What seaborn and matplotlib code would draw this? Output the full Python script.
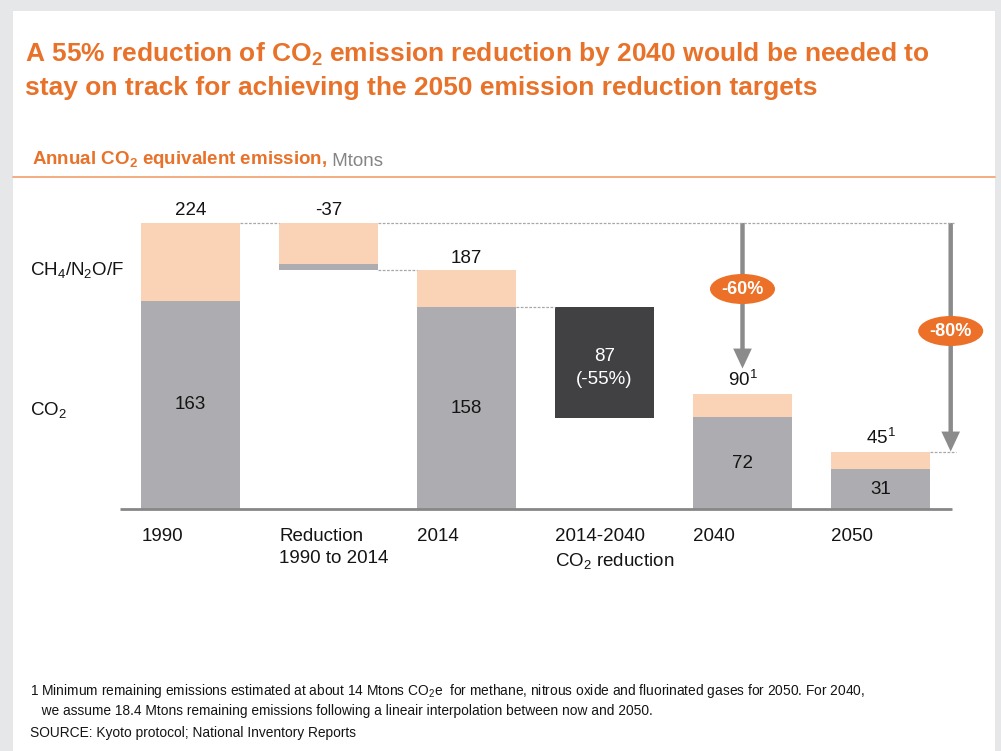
import numpy as np
import pandas as pd
import seaborn as sns
import matplotlib
matplotlib.use("Agg")
import matplotlib.pyplot as plt
from matplotlib.transforms import Affine2D
from matplotlib.patches import Rectangle, Ellipse, FancyArrowPatch

# ---- data: annual CO2-equivalent emission, Mtons ----
categories = ["1990", "Reduction\n1990 to 2014", "2014",
              "2014-2040\nCO$_2$ reduction", "2040", "2050"]
years = ["1990", "2014", "2040", "2050"]
total_emission = [224, 187, 90, 45]
co2_emission = [163, 158, 72, 31]
reduction_1990_2014 = -37
co2_reduction_2014_2040 = 87
co2_reduction_pct = -55
cut_2040_pct = -60
cut_2050_pct = -80
footnoted_years = ["2040", "2050"]

row_labels = ["CH$_4$/N$_2$O/F", "CO$_2$"]
title_lines = ["A 55% reduction of CO$_\\mathbf{2}$ emission reduction by 2040 would be needed to",
               "stay on track for achieving the 2050 emission reduction targets"]
subtitle_bold = "Annual CO$_\\mathbf{2}$ equivalent emission,"
subtitle_unit = " Mtons"
footnote_lines = [
    "1 Minimum remaining emissions estimated at about 14 Mtons CO$_2$e  for methane, nitrous oxide and fluorinated gases for 2050. For 2040,",
    "   we assume 18.4 Mtons remaining emissions following a lineair interpolation between now and 2050.",
]
source_line = "SOURCE: Kyoto protocol; National Inventory Reports"

# ---- colours ----
ORANGE = "#E8722A"
BADGE = "#EC7027"
PEACH = "#FAD3B6"
GREY = "#ADADB1"
DARK = "#414143"
ARROW = "#8B8B8B"
DOTS = "#A8A8A8"
FRAME = "#E6E7E9"
INK = "#141414"

# ---- stacked / floating layers derived from the series ----
other_emission = [t - c for t, c in zip(total_emission, co2_emission)]
tot = dict(zip(years, total_emission))
co2 = dict(zip(years, co2_emission))
oth = dict(zip(years, other_emission))
red_co2 = co2["1990"] - co2["2014"]
red_oth = oth["1990"] - oth["2014"]
dark_bottom = co2["2014"] - co2_reduction_2014_2040

grey_h = [co2["1990"], red_co2, co2["2014"], 0, co2["2040"], co2["2050"]]
grey_b = [0, tot["2014"], 0, 0, 0, 0]
peach_h = [oth["1990"], red_oth, oth["2014"], 0, oth["2040"], oth["2050"]]
peach_b = [co2["1990"], tot["2014"] + red_co2, co2["2014"], 0, co2["2040"], co2["2050"]]
dark_h = [0, 0, 0, co2_reduction_2014_2040, 0, 0]
dark_b = [0, 0, 0, dark_bottom, 0, 0]

# ---- figure ----
W, H = 1001, 751
sns.set_theme(style="white")
plt.rcParams["font.family"] = ["Liberation Sans", "DejaVu Sans"]
plt.rcParams["mathtext.fontset"] = "custom"
plt.rcParams["mathtext.rm"] = "Liberation Sans"
plt.rcParams["mathtext.it"] = "Liberation Sans:italic"
plt.rcParams["mathtext.bf"] = "Liberation Sans:bold"

fig = plt.figure(figsize=(W / 100, H / 100), dpi=100)
fig.patch.set_facecolor(FRAME)
PX = Affine2D().scale(1 / W, -1 / H).translate(0, 1) + fig.transFigure

fig.add_artist(Rectangle((13, 11), 982, 745, transform=PX, facecolor="white",
                         edgecolor="none", zorder=-5))

ax = fig.add_axes([0, 0, 1, 1])
ax.patch.set_alpha(0)

BW = 0.717
df = pd.DataFrame({"cat": categories, "grey": grey_h, "peach": peach_h, "dark": dark_h})
for col, bottoms, colour in [("grey", grey_b, GREY), ("peach", peach_b, PEACH),
                             ("dark", dark_b, DARK)]:
    sns.barplot(data=df, x="cat", y=col, order=categories, bottom=bottoms,
                color=colour, saturation=1, width=BW, errorbar=None,
                linewidth=0, ax=ax)

# data <-> pixel mapping: bar pitch 138 px, 1.277 px per Mton, baseline at y=509
X0, PITCH, Y0, SCALE = 190.5, 138.0, 509.0, 1.277
ax.set_xlim(-X0 / PITCH, (W - X0) / PITCH)
ax.set_ylim(-(H - Y0) / SCALE, Y0 / SCALE)
ax.axis("off")

def xpx(px):
    return (px - X0) / PITCH

# baseline
ax.plot([xpx(120), xpx(952)], [0, 0], color="#878787", lw=2.0, solid_capstyle="butt")

# dotted connectors
top = tot["1990"]
half = BW / 2
dot_kw = dict(color=DOTS, lw=0.9, ls=(0, (2.2, 1.2)))
ax.plot([0 + half, 1 - half], [top, top], **dot_kw)
ax.plot([1 + half, xpx(954)], [top, top], **dot_kw)
ax.plot([1 + half, 2 - half], [tot["2014"], tot["2014"]], **dot_kw)
ax.plot([2 + half, 3 - half], [co2["2014"], co2["2014"]], **dot_kw)
ax.plot([5 + half, xpx(956)], [tot["2050"], tot["2050"]], **dot_kw)

# value labels above the bars
LFS = 13.5
lab_kw = dict(textcoords="offset points", ha="center", va="baseline",
              fontsize=LFS, color=INK)
above = {0: (str(top), top), 1: (str(reduction_1990_2014), top),
         2: (str(tot["2014"]), tot["2014"]),
         4: (f"{tot['2040']}$^1$", tot["2040"]),
         5: (f"{tot['2050']}$^1$", tot["2050"])}
for i, (s, v) in above.items():
    ax.annotate(s, xy=(i, v), xytext=(0, 5.5), **lab_kw)

# CO2 values inside the bars
for i, y in [(0, "1990"), (2, "2014"), (4, "2040"), (5, "2050")]:
    ax.text(i, co2[y] / 2, str(co2[y]), ha="center", va="center", fontsize=LFS, color=INK)

ax.annotate(f"{co2_reduction_2014_2040}\n({co2_reduction_pct}%)",
            xy=(3, (dark_bottom + co2["2014"]) / 2), xytext=(0, -4),
            textcoords="offset points", ha="center", va="center",
            fontsize=LFS, color="white", linespacing=1.45)

# category labels under the baseline
for i, c in enumerate(categories):
    ax.annotate(c, xy=(i - half, 0), xytext=(0.3, -14), textcoords="offset points",
                ha="left", va="top", fontsize=LFS, color=INK, linespacing=1.38)

# reduction arrows with badges
def arrow(xp, v_tip, badge_y, text):
    x = xpx(xp)
    a = FancyArrowPatch((x, top), (x, v_tip), arrowstyle="-|>,head_length=0.45,head_width=0.21",
                        mutation_scale=20, color=ARROW, lw=3.2, shrinkA=0, shrinkB=0,
                        joinstyle="miter", capstyle="butt")
    ax.add_patch(a)
    fig.add_artist(Ellipse((xp, badge_y), 65, 30, transform=PX, facecolor=BADGE,
                           edgecolor="none", zorder=3))
    fig.text(xp, badge_y, text, transform=PX, ha="center", va="center",
             fontsize=13, fontweight="bold", color="white", zorder=4)

arrow(742.5, tot["2040"] + 20, 289, f"{cut_2040_pct}%")
arrow(950.7, tot["2050"], 331, f"{cut_2050_pct}%")

# row labels
fig.text(30, 275.5, row_labels[0], transform=PX, ha="left", va="baseline",
         fontsize=LFS, color=INK)
fig.text(30, 414.5, row_labels[1], transform=PX, ha="left", va="baseline",
         fontsize=LFS, color=INK)

# heading
fig.text(25, 61.5, title_lines[0], transform=PX, ha="left", va="baseline",
         fontsize=19, fontweight="bold", color=ORANGE)
fig.text(25, 95.5, title_lines[1], transform=PX, ha="left", va="baseline",
         fontsize=19, fontweight="bold", color=ORANGE)

t1 = fig.text(32, 164.5, subtitle_bold, transform=PX, ha="left", va="baseline",
              fontsize=13.5, fontweight="bold", color=ORANGE)
ax.annotate(subtitle_unit, xy=(1, 0), xycoords=t1, xytext=(0, 0), textcoords="offset points",
            ha="left", va="bottom", fontsize=13.5, color="#858585", annotation_clip=False)
fig.add_artist(plt.Line2D([13, 995], [177, 177], transform=PX, color="#F2A676", lw=1.3))

# footnotes
FFS = 9.9
fig.text(30, 695, footnote_lines[0], transform=PX, ha="left", va="baseline",
         fontsize=FFS, color=INK)
fig.text(30, 715, footnote_lines[1], transform=PX, ha="left", va="baseline",
         fontsize=FFS, color=INK)
fig.text(30, 737, source_line, transform=PX, ha="left", va="baseline",
         fontsize=FFS, color=INK)

fig.savefig("out.png", dpi=100, facecolor=fig.get_facecolor())
